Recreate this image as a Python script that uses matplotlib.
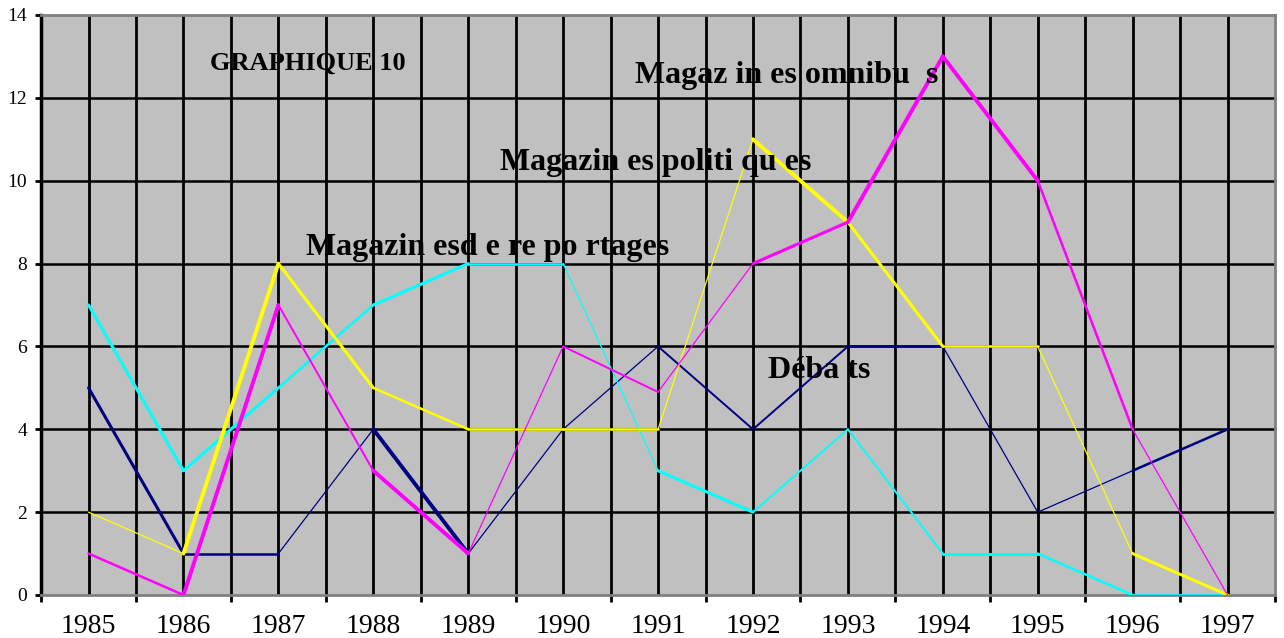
import numpy as np
import matplotlib.pyplot as plt
from matplotlib.collections import LineCollection

years = ['1985', '1986', '1987', '1988', '1989', '1990', '1991',
         '1992', '1993', '1994', '1995', '1996', '1997']

omnibus = [1, 0, 7, 3, 1, 6, 4.9, 8, 9, 13, 10, 4, 0]
politiques = [2, 1, 8, 5, 4, 4, 4, 11, 9, 6, 6, 1, 0]
reportages = [7, 3, 5, 7, 8, 8, 3, 2, 4, 1, 1, 0, 0]
debats = [5, 1, 1, 4, 1, 4, 6, 4, 6, 6, 2, 3, 4]

# segment widths (the scanned chart has uneven strokes)
w_omnibus = [1.8, 2.8, 1.4, 2.8, 0.9, 1.4, 0.9, 2.2, 2.8, 2.8, 1.8, 0.9]
w_politiques = [0.9, 2.8, 2.2, 1.8, 1.8, 1.8, 0.9, 2.8, 2.2, 1.8, 0.9, 2.2]
w_reportages = [2.2, 2.2, 1.8, 2.2, 1.8, 0.9, 2.2, 1.4, 1.4, 2.2, 1.8, 1.8]
w_debats = [2.2, 1.8, 0.9, 2.8, 0.9, 0.9, 1.4, 1.4, 1.8, 0.9, 0.9, 1.8]

def draw_series(ax, vals, widths, color):
    x = np.arange(len(vals))
    pts = np.column_stack([x, vals])
    segs = [pts[i:i + 2] for i in range(len(vals) - 1)]
    lc = LineCollection(segs, colors=color, linewidths=widths, zorder=3,
                        capstyle='round', joinstyle='round')
    ax.add_collection(lc)

def main():
    fig = plt.figure(figsize=(12.84, 6.38), dpi=100)
    ax = fig.add_axes([0.032, 0.0674, 0.961, 0.9091])
    ax.set_facecolor('#c0c0c0')
    n = len(years)
    ax.set_xlim(-0.5, n - 0.5)
    ax.set_ylim(0, 14)

    # grid: verticals at centers and boundaries, horizontals every 2
    for xv in np.arange(-0.5, n, 0.5):
        if -0.5 < xv < n - 0.5:
            ax.axvline(xv, color='black', lw=2.0, zorder=1)
    for yv in range(2, 14, 2):
        ax.axhline(yv, color='black', lw=1.8, zorder=1)

    draw_series(ax, debats, w_debats, '#000080')
    draw_series(ax, reportages, w_reportages, '#00ffff')
    draw_series(ax, politiques, w_politiques, '#ffff00')
    draw_series(ax, omnibus, w_omnibus, '#ff00ff')

    ax.set_xticks(np.arange(n))
    ax.set_xticklabels(years, family='Liberation Serif', fontsize=20)
    ax.set_xticks(np.arange(-0.5, n, 1.0), minor=True)
    ax.tick_params(axis='x', which='major', length=0, pad=14)
    ax.tick_params(axis='x', which='minor', length=5, width=2,
                   direction='out', color='black')
    ax.set_yticks(range(0, 15, 2))
    ax.set_yticklabels([str(v) for v in range(0, 15, 2)],
                       family='Liberation Serif', fontsize=14)
    ax.tick_params(axis='y', length=4, width=2, pad=6, color='black')

    ax.spines['left'].set_color('black')
    ax.spines['left'].set_linewidth(2.5)
    for s in ['top', 'right', 'bottom']:
        ax.spines[s].set_color('#808080')
        ax.spines[s].set_linewidth(2)

    tkw = dict(family='Liberation Serif', fontweight='bold', color='black',
               va='center', ha='left', zorder=4)
    ax.text(1.28, 12.84, 'GRAPHIQUE 10', fontsize=19, **tkw)
    ax.text(5.76, 12.55, 'Magaz in es omnibu  s', fontsize=23, **tkw)
    ax.text(4.34, 10.45, 'Magazin es politi qu es', fontsize=23, **tkw)
    ax.text(2.29, 8.38, 'Magazin esd e re po rtages', fontsize=23, **tkw)
    ax.text(7.16, 5.41, 'Déba ts', fontsize=23, **tkw)

    fig.savefig('out.png', dpi=100)

if __name__ == '__main__':
    main()
